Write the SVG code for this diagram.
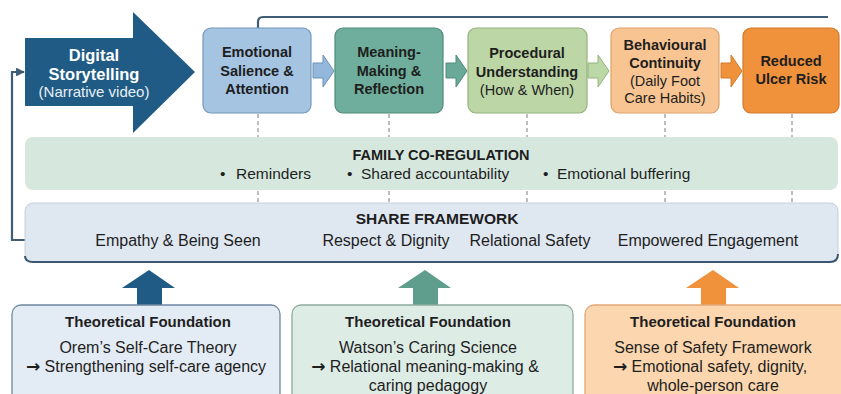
<svg xmlns="http://www.w3.org/2000/svg" width="841" height="394" viewBox="0 0 841 394">
  <style>
    text { font-family: "Liberation Sans", Arial, sans-serif; fill: #1e1e1e; text-anchor: middle; }
    .b { font-weight: bold; }
    .stage { font-size: 14.5px; font-weight: bold; }
    .sub { font-size: 14.5px; font-weight: normal; }
    .body { font-size: 16px; }
    .bul { font-size: 15.5px; text-anchor: start; }
    .arr { font-family: "DejaVu Sans", sans-serif; font-weight: bold; font-size: 17px; }
    .dash { stroke: #9a9a9a; stroke-width: 1.3; stroke-dasharray: 4 3; fill: none; }
    .link { stroke: #3f5d76; stroke-width: 2.2; fill: none; }
  </style>
  <defs>
    <marker id="head" viewBox="0 0 10 10" refX="9" refY="5" markerWidth="4" markerHeight="4" orient="auto">
      <path d="M0,0 L10,5 L0,10 z" fill="#3f5d76"/>
    </marker>
  </defs>

  <!-- feedback and link lines -->
  <g id="connectors">
    <path class="link" d="M258,28 V22 Q258,17 263,17 H828"/>
    <path class="link" d="M25,240 H12 V72 H24" marker-end="url(#head)"/>
    <!-- dashed drop lines from stages -->
    <path class="dash" d="M258,114 V137 M258,191 V203"/>
    <path class="dash" d="M389,114 V137 M389,191 V203"/>
    <path class="dash" d="M527,114 V137 M527,191 V203"/>
    <path class="dash" d="M665,114 V137 M665,191 V203"/>
    <path class="dash" d="M792,114 V137 M792,191 V203"/>
    <!-- stage-to-stage arrows -->
    <path d="M313,63 H323 V55 L334,71 L323,87 V78 H313 z" fill="#93b8dc" stroke="#6b91b6" stroke-width="1"/>
    <path d="M446,63 H456 V55 L467,71 L456,87 V78 H446 z" fill="#6aa898" stroke="#4f8c7b" stroke-width="1"/>
    <path d="M588,63 H598 V55 L609,71 L598,87 V78 H588 z" fill="#bcd8a6" stroke="#95b47e" stroke-width="1"/>
    <path d="M721,63 H731 V55 L742,71 L731,87 V78 H721 z" fill="#f0913c" stroke="#d27a2a" stroke-width="1"/>
    <!-- foundation arrows -->
    <path d="M137,305 V288 H122 L149,270 L175,288 H162 V305 z" fill="#1f5b84"/>
    <path d="M413,305 V288 H398 L425,270 L451,288 H438 V305 z" fill="#5f9e8c"/>
    <path d="M701,305 V288 H686 L713,270 L739,288 H726 V305 z" fill="#f0913c"/>
  </g>

  <g id="digital-storytelling">
    <path d="M25,38 H133 V12 L195,72 L133,133 V106 H25 z" fill="#1f5b84"/>
    <text x="94" y="61" class="b" style="font-size:16.5px;fill:#ffffff">Digital</text>
    <text x="94" y="80" class="b" style="font-size:16.5px;fill:#ffffff">Storytelling</text>
    <text x="94" y="97" style="font-size:15px;fill:#e8f0f7">(Narrative video)</text>
  </g>

  <g id="emotional-salience">
    <rect x="203" y="28" width="108" height="85" rx="8" fill="#a4c4e2" stroke="#7298bc" stroke-width="1.2"/>
    <text x="257" y="57" class="stage">Emotional</text>
    <text x="257" y="76" class="stage">Salience &amp;</text>
    <text x="257" y="94" class="stage">Attention</text>
  </g>

  <g id="meaning-making">
    <rect x="335" y="28" width="108" height="85" rx="8" fill="#6fae9c" stroke="#4e8b79" stroke-width="1.2"/>
    <text x="389" y="57" class="stage">Meaning-</text>
    <text x="389" y="76" class="stage">Making &amp;</text>
    <text x="389" y="94" class="stage">Reflection</text>
  </g>

  <g id="procedural-understanding">
    <rect x="468" y="28" width="119" height="85" rx="8" fill="#bcd6a6" stroke="#95b27e" stroke-width="1.2"/>
    <text x="527" y="58" class="stage">Procedural</text>
    <text x="527" y="77" class="stage">Understanding</text>
    <text x="527" y="95" class="sub">(How &amp; When)</text>
  </g>

  <g id="behavioural-continuity">
    <rect x="611" y="28" width="108" height="85" rx="8" fill="#f8c592" stroke="#dba26c" stroke-width="1.2"/>
    <text x="665" y="50" class="stage">Behavioural</text>
    <text x="665" y="68" class="stage">Continuity</text>
    <text x="665" y="86" class="sub">(Daily Foot</text>
    <text x="665" y="103" class="sub">Care Habits)</text>
  </g>

  <g id="reduced-ulcer-risk">
    <rect x="743" y="28" width="96" height="85" rx="8" fill="#f0913c" stroke="#d27a2a" stroke-width="1.2"/>
    <text x="791" y="66" class="stage">Reduced</text>
    <text x="791" y="84" class="stage">Ulcer Risk</text>
  </g>

  <g id="family-co-regulation">
    <rect x="25" y="137" width="813" height="53" rx="8" fill="#d6e8de"/>
    <text x="441" y="160" class="b" style="font-size:14.5px">FAMILY CO-REGULATION</text>
    <text x="220" y="179" class="bul">•</text>
    <text x="236" y="179" class="bul">Reminders</text>
    <text x="347" y="179" class="bul">•</text>
    <text x="361" y="179" class="bul">Shared accountability</text>
    <text x="543" y="179" class="bul">•</text>
    <text x="557" y="179" class="bul">Emotional buffering</text>
  </g>

  <g id="share-framework">
    <rect x="25" y="203" width="813" height="59" rx="8" fill="#dfe7f1" stroke="#c3d0de" stroke-width="1"/>
    <path d="M25,256 Q25,262 33,262 H830 Q838,262 838,254" fill="none" stroke="#3a5670" stroke-width="2"/>
    <text x="437" y="224" class="b" style="font-size:15.5px">SHARE FRAMEWORK</text>
    <text x="178" y="246" style="font-size:16px">Empathy &amp; Being Seen</text>
    <text x="386" y="246" style="font-size:16px">Respect &amp; Dignity</text>
    <text x="530" y="246" style="font-size:16px">Relational Safety</text>
    <text x="708" y="246" style="font-size:16px">Empowered Engagement</text>
  </g>

  <g id="foundation-orem">
    <rect x="12" y="305" width="268" height="100" rx="9" fill="#e3ebf4" stroke="#70879e" stroke-width="1.3"/>
    <text x="148" y="327" class="b" style="font-size:15px">Theoretical Foundation</text>
    <text x="148" y="353" class="body">Orem’s Self-Care Theory</text>
    <text x="146" y="372" class="body"><tspan class="arr">→</tspan> Strengthening self-care agency</text>
  </g>

  <g id="foundation-watson">
    <rect x="292" y="305" width="281" height="100" rx="9" fill="#deece6" stroke="#8eaa9e" stroke-width="1.3"/>
    <text x="428" y="327" class="b" style="font-size:15px">Theoretical Foundation</text>
    <text x="428" y="353" class="body">Watson’s Caring Science</text>
    <text x="425" y="372" class="body"><tspan class="arr">→</tspan> Relational meaning-making &amp;</text>
    <text x="428" y="391" class="body">caring pedagogy</text>
  </g>

  <g id="foundation-safety">
    <rect x="585" y="305" width="270" height="100" rx="9" fill="#fbd6ae" stroke="#e2a878" stroke-width="1.3"/>
    <text x="713" y="327" class="b" style="font-size:15px">Theoretical Foundation</text>
    <text x="713" y="353" class="body">Sense of Safety Framework</text>
    <text x="710" y="372" class="body"><tspan class="arr">→</tspan> Emotional safety, dignity,</text>
    <text x="713" y="391" class="body">whole-person care</text>
  </g>
</svg>
